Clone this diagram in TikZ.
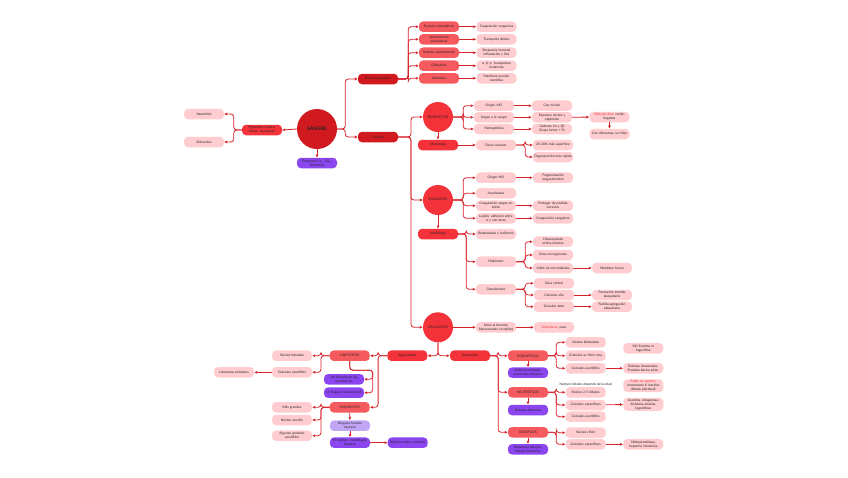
\documentclass[tikz,border=0pt]{standalone}
\usepackage{fontspec}
\setmainfont{Lato}
\usetikzlibrary{arrows.meta}
\definecolor{sgdark}{HTML}{D11A20}
\definecolor{sgred}{HTML}{F4323A}
\definecolor{sgmid}{HTML}{F55A5E}
\definecolor{sgpink}{HTML}{FFCDD0}
\definecolor{sgpurple}{HTML}{8B46F0}
\definecolor{sglilac}{HTML}{C2A6F6}
\definecolor{sgline}{HTML}{D9232B}
\definecolor{sgtext}{HTML}{222222}

\begin{document}
\begin{tikzpicture}[x=1pt,y=-1pt,
box/.style={rounded corners=4pt,minimum height=10.5pt,text width=38pt,
inner sep=1pt,align=center,text=sgtext,
font=\fontsize{3.3}{4}\selectfont},
leaf/.style={box,fill=sgpink},
purp/.style={box,fill=sgpurple},
circ/.style={circle,minimum size=30pt,inner sep=0pt,text=sgtext,
font=\fontsize{3.3}{4}\selectfont},
arr/.style={-{Latex[length=3pt,width=3pt]},draw=sgline,
line width=0.8pt,rounded corners=3pt}
]
\fill[white] (0,0) rectangle (848,477);
\useasboundingbox (0,0) rectangle (848,477);

% centre
\node[circle,fill=sgdark,minimum size=40pt,inner sep=0pt,text=sgtext,
font=\fontsize{5}{6}\selectfont\bfseries] (sangre) at (317,129) {SANGRE};
\node[box,fill=sgred] (pigm) at (262,130) {Pigmentos respiratorios: transporte};
\node[leaf] (hemol) at (204,114) {Hemolinfa};
\node[leaf] (eritr) at (204,142) {Eritrocitos};
\node[purp] (transp) at (317,163) {Transporte O\textsubscript{2}, CO\textsubscript{2},\\ hormonas};
\node[box,fill=sgdark] (plasma) at (378,79) {Plasma sanguíneo};
\node[box,fill=sgdark] (celulas) at (378,137) {Células};

% plasma
\node[box,fill=sgmid] (factores) at (439,26.7) {Factores plasmáticos};
\node[box,fill=sgmid] (lipo) at (439,39.3) {Lipoproteínas\\ plasmáticas};
\node[box,fill=sgmid] (complem) at (439,52.7) {Sistema complemento};
\node[box,fill=sgmid] (globul) at (439,65.7) {Globulinas};
\node[box,fill=sgmid] (albumina) at (439,78.3) {Albúmina};
\node[leaf] (coagp) at (496.5,26.7) {Coagulación sanguínea};
\node[leaf] (translip) at (496.5,39.3) {Transporta lípidos};
\node[leaf] (humoral) at (496.5,52.7) {Respuesta humoral\\ inflamación y lisis};
\node[leaf] (sustan) at (496.5,65.7) {α, β, γ: transportan\\ sustancias};
\node[leaf] (presion) at (496.5,78.3) {Mantiene presión\\ osmótica};

% eritrocitos
\node[circ,fill=sgred] (eritro) at (438,117) {ERITROCITOS};
\node[box,fill=sgred] (morfe) at (438,145) {Morfología};
\node[leaf] (origen) at (494,105.7) {Origen MO};
\node[leaf] (llegan) at (494,117.3) {Llegan a la sangre};
\node[leaf] (hemog) at (494,129) {Hemoglobina};
\node[leaf] (connucleo) at (552,105.7) {Con núcleo};
\node[leaf] (expulsan) at (552,117.3) {Expulsan núcleo y\\ orgánulos};
\node[leaf] (cadenas) at (552,129) {Cadenas 2α y 2β\\ Grupo hemo + Fe};
\node[leaf] (reticu) at (609.5,117) {\textcolor{sgred}{Reticulocitos:} recién\\ llegados};
\node[leaf] (conribo) at (609.5,134) {Con ribosomas, se tiñen};
\node[leaf] (disco) at (496,145) {Disco cóncavo};
\node[leaf] (superf) at (553,145) {20-30\% más superficie};
\node[leaf] (degen) at (553,157) {Degeneración más rápida};

% plaquetas
\node[circ,fill=sgred] (plaq) at (438,200) {PLAQUETAS};
\node[leaf] (origenp) at (496,177.7) {Origen MO};
\node[leaf] (fragm) at (553,177.7) {Fragmentación\\ megacariocitos};
\node[leaf] (anucl) at (496,193.3) {Anucleadas};
\node[leaf] (coagl) at (496,205.7) {Coagulación sangre en\\ lesión};
\node[leaf] (proteg) at (553,205.7) {Proteger de pérdida\\ excesiva};
\node[leaf] (lesion) at (496,218.3) {Lesión: adhieren entre\\ sí y con otras};
\node[leaf] (coags) at (553,218.3) {Coagulación sanguínea};
\node[box,fill=sgred] (morfp) at (438,234) {Morfología};
\node[leaf] (redond) at (496,234) {Redondeada y fusiforme};
\node[leaf] (hialo) at (496,261.7) {Hialómero};
\node[leaf] (citoesq) at (553,241.7) {Citoesqueleto\\ actina-miosina};
\node[leaf] (zonasin) at (553,255) {Zona sin orgánulos};
\node[leaf] (anillo) at (553,268) {Anillo de microtúbulos};
\node[leaf] (mantiene) at (612,268) {Mantiene forma};
\node[leaf] (granulo) at (496,289.3) {Granulómero};
\node[leaf] (zonac) at (554,283.3) {Zona central};
\node[leaf] (galfa) at (554,295) {Gránulos alfa};
\node[leaf] (formac) at (612,295) {Formación trombo\\ plaquetario};
\node[leaf] (gbeta) at (554,306.7) {Gránulos beta};
\node[leaf] (facilita) at (612,306.7) {Facilita agregación\\ plaquetaria};

% leucocitos
\node[circ,fill=sgred] (leuco) at (438,327.3) {LEUCOCITOS};
\node[leaf] (salen) at (496,327.3) {Salen al torrente\\ Almacenados en tejidos};
\node[leaf] (diaped) at (554,327.3) {\textcolor{sgred}{Diapédesis:} paso};
\node[box,fill=sgred] (agran) at (407.3,355.7) {Agranulados};
\node[box,fill=sgred] (granul) at (470,355.7) {Granulados};

% agranulados
\node[box,fill=sgmid] (linfo) at (349.7,355.7) {LINFOCITOS};
\node[leaf] (nucleol) at (292,355.7) {Núcleo lobulado};
\node[leaf] (gazur) at (292,372.3) {Gránulos azurófilos};
\node[leaf] (lisos) at (234,372.3) {Lisosomas primarios};
\node[purp] (lb) at (344,379.3) {LB: Reconocen Ag\\ secretan Ac};
\node[purp] (lt) at (344,392.7) {LT: Regulan actividad LB};
\node[box,fill=sgmid] (monoc) at (349.7,407.3) {MONOCITOS};
\node[leaf] (masgr) at (292,407.3) {Más grandes};
\node[leaf] (nucleos) at (292,420) {Núcleo sencillo};
\node[leaf] (algunos) at (292,435.7) {Algunos gránulos\\ azurófilos};
\node[box,fill=sglilac] (ninguna) at (350,425.7) {Ninguna función\\ esencial};
\node[purp] (tejidos) at (350,442.7) {En tejidos: macrófagos\\ tisulares};
\node[purp] (digieren) at (407.7,442.7) {Digieren restos celulares};

% granulados
\node[box,fill=sgmid] (eosin) at (528,355.7) {EOSINÓFILOS};
\node[purp] (defpar) at (528,372.7) {Defensa parásitos,\\ reacciones alérgicas};
\node[box,fill=sgmid] (neutr) at (528,392.3) {NEUTRÓFILOS};
\node[purp] (defbac) at (528,410) {Defensa bacterias};
\node[box,fill=sgmid] (basof) at (528,432.3) {BASÓFILOS};
\node[purp] (respal) at (528,449.3) {Respuesta alérgica,\\ liberan histamina};
\node[leaf] (nbilob) at (585.7,342.3) {Núcleo bilobulado};
\node[leaf] (gtinen) at (585.7,355.7) {Gránulos se tiñen rosa};
\node[leaf] (gazure) at (585.7,368.3) {Gránulos azurófilos};
\node[leaf] (enzimas) at (643.3,368.3) {Enzimas lisosomales,\\ Proteína básica princ.};
\node[leaf] (nolis) at (643.3,348.3) {NO lisozima ni\\ fagocitina};
\node[text=sgtext,font=\fontsize{3.3}{4}\selectfont,inner sep=0pt] (numlob)
at (585.7,384.3) {Número lóbulos depende de la edad};
\node[leaf] (palillo) at (643.3,385.7) {\textcolor{sgred}{Palillo de tambor:}\\ cromosoma X inactivo\\ (lóbulo adicional)};
\node[leaf] (nlob) at (585.7,392.3) {Núcleo 2-5 lóbulos};
\node[leaf] (gespn) at (585.7,405) {Gránulos específicos};
\node[leaf] (lisoz) at (643.3,404.3) {Lisozima, colagenasa,\\ fosfatasa alcalina,\\ fagocitinas};
\node[leaf] (gazurn) at (585.7,416.7) {Gránulos azurófilos};
\node[leaf] (nrinon) at (585.7,432.7) {Núcleo riñón};
\node[leaf] (gespb) at (585.7,444.3) {Gránulos específicos};
\node[leaf] (mielo) at (643.3,444.3) {Mieloperoxidasa,\\ heparina, histamina};

% connectors
\draw[arr] (sangre.west) -- (pigm.east);
\draw[arr] (sangre.south) -- (transp.north);
\foreach \b in {hemol,eritr}
\draw[arr] (pigm.west) -- ++(-8,0) |- (\b.east);
\foreach \b in {plasma,celulas}
\draw[arr] (sangre.east) -- ++(8,0) |- (\b.west);
\foreach \b in {factores,lipo,complem,globul,albumina}
\draw[arr] (plasma.east) -- ++(10,0) |- (\b.west);
\foreach \a/\b in {factores/coagp,lipo/translip,complem/humoral,
globul/sustan,albumina/presion}
\draw[arr] (\a) -- (\b);
\foreach \b in {eritro,plaq,leuco}
\draw[arr] (celulas.east) -- ++(12.7,0) |- (\b.west);
\foreach \b in {origen,llegan,hemog}
\draw[arr] (eritro.east) -- ++(10,0) |- (\b.west);
\foreach \a/\b in {origen/connucleo,llegan/expulsan,hemog/cadenas,
expulsan/reticu,eritro/morfe,morfe/disco,plaq/morfp,leuco/salen,
salen/diaped,anillo/mantiene,galfa/formac,gbeta/facilita,
origenp/fragm,coagl/proteg,lesion/coags}
\draw[arr] (\a) -- (\b);
\draw[arr] (reticu) -- (conribo);
\foreach \b in {superf,degen}
\draw[arr] (disco.east) -- ++(9,0) |- (\b.west);
\foreach \b in {origenp,anucl,coagl,lesion}
\draw[arr] (plaq.east) -- ++(10,0) |- (\b.west);
\foreach \b in {redond,hialo,granulo}
\draw[arr] (morfp.east) -- ++(8,0) |- (\b.west);
\foreach \b in {citoesq,zonasin,anillo}
\draw[arr] (hialo.east) -- ++(9,0) |- (\b.west);
\foreach \b in {zonac,galfa,gbeta}
\draw[arr] (granulo.east) -- ++(9,0) |- (\b.west);

\draw[arr] (leuco.south) |- (agran.east);
\draw[arr] (leuco.south) |- (granul.west);
\foreach \b in {linfo,monoc}
\draw[arr] (agran.west) -- ++(-9,0) |- (\b.east);
\foreach \b in {nucleol,gazur}
\draw[arr] (linfo.west) -- ++(-8.5,0) |- (\b.east);
\draw[arr] (gazur) -- (lisos);
\foreach \b in {lb,lt}
\draw[arr] (linfo.south) -- ++(0,9) -- ++(23,0) |- (\b.east);
\foreach \b in {masgr,nucleos,algunos}
\draw[arr] (monoc.west) -- ++(-8.5,0) |- (\b.east);
\foreach \a/\b in {monoc/ninguna,ninguna/tejidos,tejidos/digieren,
eosin/defpar,neutr/defbac,basof/respal,gazure/enzimas,
gespn/lisoz,gespb/mielo}
\draw[arr] (\a) -- (\b);
\foreach \b in {eosin,neutr,basof}
\draw[arr] (granul.east) -- ++(8,0) |- (\b.west);
\foreach \b in {nbilob,gtinen,gazure}
\draw[arr] (eosin.east) -- ++(8,0) |- (\b.west);
\foreach \b in {nlob,gespn,gazurn}
\draw[arr] (neutr.east) -- ++(8,0) |- (\b.west);
\foreach \b in {nrinon,gespb}
\draw[arr] (basof.east) -- ++(8,0) |- (\b.west);
\end{tikzpicture}
\end{document}
